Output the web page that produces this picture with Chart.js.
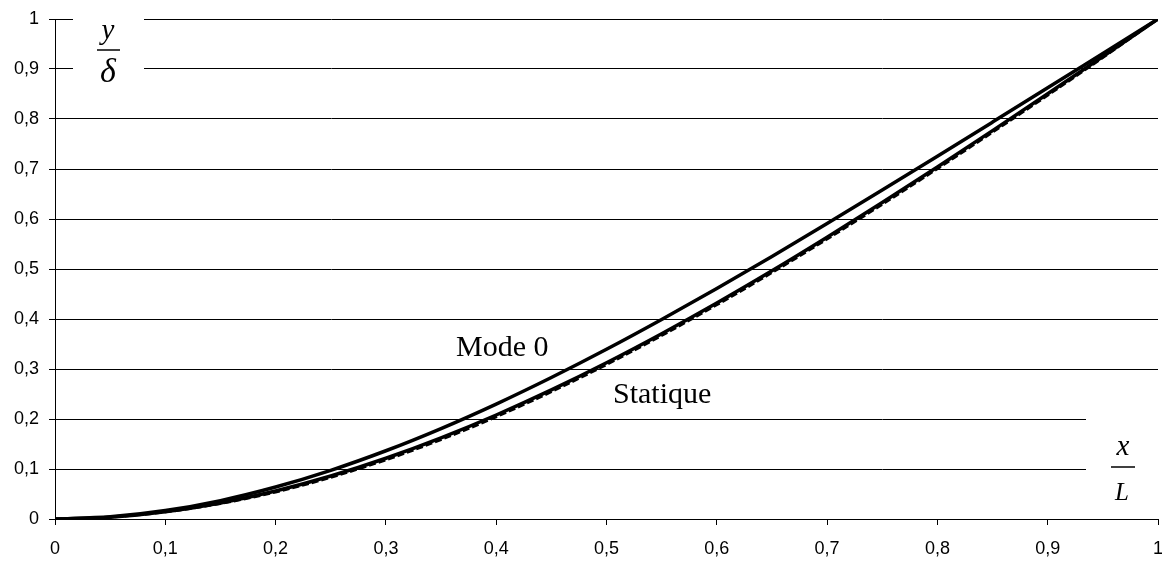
<!DOCTYPE html>
<html>
<head>
<meta charset="utf-8">
<script src="https://cdn.jsdelivr.net/npm/chart.js@4/dist/chart.umd.min.js"></script>
<style>
html,body{margin:0;padding:0;background:#fff;}
#wrap{width:1162px;height:563px;position:relative;}
</style>
</head>
<body>
<div id="wrap"><canvas id="c" width="1162" height="563"></canvas></div>
<script>
const xValues = [0,0.05,0.1,0.15,0.2,0.25,0.3,0.35,0.4,0.45,0.5,0.55,0.6,0.65,0.7,0.75,0.8,0.85,0.9,0.95,1];
const mode0 = [0,0.0043,0.0168,0.0368,0.0639,0.0973,0.1365,0.1809,0.2299,0.2830,0.3395,0.3991,0.4611,0.5252,0.5909,0.6578,0.7255,0.7938,0.8624,0.9312,1];
const statique = [0,0.0037,0.0145,0.0321,0.0560,0.0859,0.1215,0.1623,0.2080,0.2582,0.3125,0.3706,0.4320,0.4964,0.5635,0.6328,0.7040,0.7767,0.8505,0.9251,1];
const statiqueDashed = [0,0.0035,0.0138,0.0305,0.0535,0.0830,0.1180,0.1585,0.2040,0.2542,0.3085,0.3666,0.4280,0.4924,0.5596,0.6290,0.7003,0.7732,0.8472,0.9225,1];
const xTickLabels = ['0','0,1','0,2','0,3','0,4','0,5','0,6','0,7','0,8','0,9','1'];
const yTickLabels = ['0','0,1','0,2','0,3','0,4','0,5','0,6','0,7','0,8','0,9','1'];

const toPts = arr => arr.map((v,i)=>({x:xValues[i], y:v}));

const overlay = {
  id:'overlay',
  beforeDatasetsDraw(chart){
    const ctx = chart.ctx;
    const xs = chart.scales.x, ys = chart.scales.y;
    ctx.save();
    ctx.fillStyle = '#fff';
    ctx.fillRect(73, ys.getPixelForValue(1)-3, 71, 56);
    ctx.fillRect(1086, ys.getPixelForValue(0.2)-3, xs.right-1086+2, 56);
    ctx.restore();
  },
  afterDatasetsDraw(chart){
    const ctx = chart.ctx;
    ctx.save();
    ctx.fillStyle = '#000';
    ctx.strokeStyle = '#000';
    ctx.textAlign = 'center';
    ctx.textBaseline = 'alphabetic';
    ctx.font = 'italic 29px "Liberation Serif", "Times New Roman", serif';
    ctx.fillText('y', 108, 39);
    ctx.fillText('x', 1123, 455);
    ctx.font = 'italic 34px "Liberation Serif", "Times New Roman", serif';
    ctx.fillText('\u03B4', 108, 82);
    ctx.font = 'italic 25px "Liberation Serif", "Times New Roman", serif';
    ctx.fillText('L', 1122, 500);
    ctx.lineWidth = 1.5;
    ctx.beginPath(); ctx.moveTo(97, 50); ctx.lineTo(120, 50); ctx.stroke();
    ctx.beginPath(); ctx.moveTo(1111, 467); ctx.lineTo(1135, 467); ctx.stroke();
    ctx.font = '30px "Liberation Serif", "Times New Roman", serif';
    ctx.textAlign = 'left';
    ctx.fillText('Mode 0', 456, 356);
    ctx.fillText('Statique', 613, 403);
    ctx.restore();
  }
};

new Chart(document.getElementById('c'), {
  type:'line',
  data:{
    datasets:[
      {label:'Mode 0', data:toPts(mode0), borderColor:'#000', borderWidth:3.5, pointRadius:0, fill:false, cubicInterpolationMode:'monotone'},
      {label:'Statique', data:toPts(statique), borderColor:'#000', borderWidth:3.5, pointRadius:0, fill:false, cubicInterpolationMode:'monotone'},
      {label:'Statique (2)', data:toPts(statiqueDashed), borderColor:'#000', borderWidth:2.5, borderDash:[7,3], pointRadius:0, fill:false, cubicInterpolationMode:'monotone'}
    ]
  },
  options:{
    responsive:false,
    animation:false,
    events:[],
    layout:{padding:{top:19, right:4, left:0, bottom:0}},
    plugins:{legend:{display:false}, tooltip:{enabled:false}},
    scales:{
      x:{
        type:'linear', min:0, max:1,
        afterFit(s){ s.height = 44; s.paddingLeft = 0; s.paddingRight = 0; },
        afterBuildTicks(s){ s.ticks = xTickLabels.map((t,i)=>({value:i/10})); },
        ticks:{callback:(v,i)=>xTickLabels[i], color:'#000', font:{family:'"Liberation Sans", Arial, sans-serif', size:18}, padding:13, maxRotation:0, autoSkip:false},
        grid:{drawOnChartArea:false, drawTicks:true, tickLength:6, color:'#000', lineWidth:1},
        border:{display:true, color:'#000', width:1}
      },
      y:{
        type:'linear', min:0, max:1,
        afterFit(s){ s.width = 55; s.paddingTop = 0; s.paddingBottom = 0; },
        afterBuildTicks(s){ s.ticks = yTickLabels.map((t,i)=>({value:i/10})); },
        ticks:{callback:(v,i)=>yTickLabels[i], color:'#000', font:{family:'"Liberation Sans", Arial, sans-serif', size:18}, padding:10, autoSkip:false},
        grid:{drawOnChartArea:true, drawTicks:true, tickLength:6, color:'#000', lineWidth:1},
        border:{display:true, color:'#000', width:1}
      }
    }
  },
  plugins:[overlay]
});
</script>
</body>
</html>
